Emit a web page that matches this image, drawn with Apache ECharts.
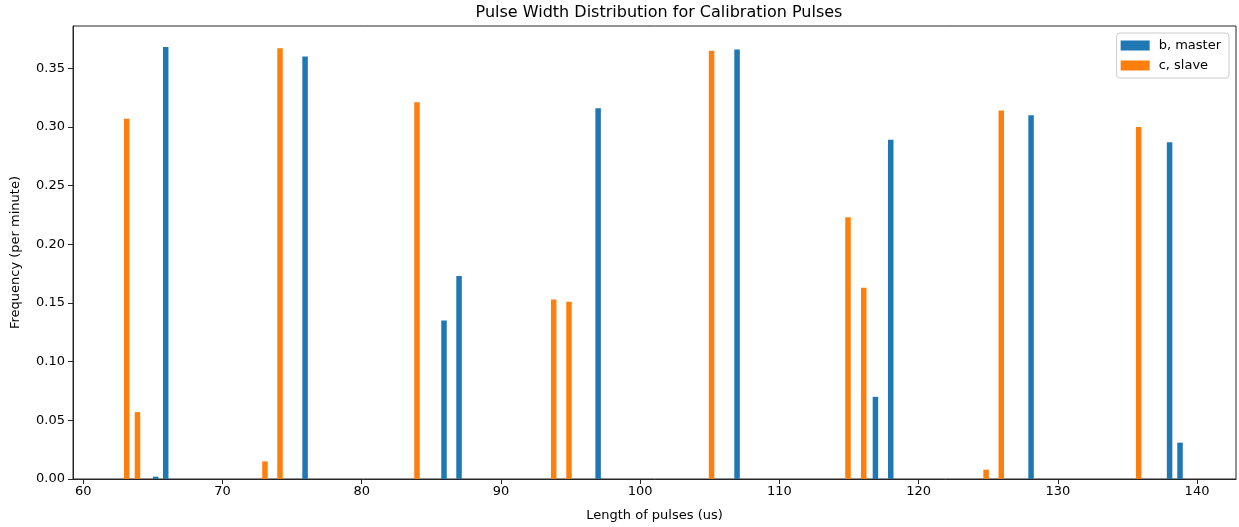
<!DOCTYPE html>
<html>
<head>
<meta charset="utf-8">
<script src="https://cdn.jsdelivr.net/npm/echarts@6/dist/echarts.min.js"></script>
<style>
  html, body { margin: 0; padding: 0; background: #fff; }
  #chart { width: 1239px; height: 527px; }
</style>
</head>
<body>
<div id="chart"></div>
<script>
// Pulse lengths (us) and per-minute frequencies for each channel
const masterLengths = [65.20, 65.92, 75.93, 85.91, 86.99, 96.98, 106.96, 116.90, 118.00, 128.08, 138.03, 138.78];
const masterFreq    = [0.002, 0.368, 0.360, 0.135, 0.173, 0.316, 0.366, 0.070, 0.289, 0.310, 0.287, 0.031];
const slaveLengths  = [63.12, 63.89, 73.05, 74.13, 83.97, 93.79, 94.89, 105.13, 114.93, 116.06, 124.85, 125.94, 135.81];
const slaveFreq     = [0.307, 0.057, 0.015, 0.367, 0.321, 0.153, 0.151, 0.365, 0.223, 0.163, 0.008, 0.314, 0.300];

const xTicks = [60, 70, 80, 90, 100, 110, 120, 130, 140];
const yTicks = [0, 0.05, 0.10, 0.15, 0.20, 0.25, 0.30, 0.35];

const seriesNames = ['b, master', 'c, slave'];
const colors = ['#1f77b4', '#ff7f0e'];

const pairs = (xs, ys) => xs.map((x, i) => [x, ys[i]]);

const font = 'DejaVu Sans';
const axisColor = '#262626';

const chart = echarts.init(document.getElementById('chart'), null, { renderer: 'canvas' });

chart.setOption({
  animation: false,
  color: colors,
  textStyle: { fontFamily: font },
  title: {
    text: 'Pulse Width Distribution for Calibration Pulses',
    left: 654, top: 0, textAlign: 'center',
    textStyle: { fontFamily: font, fontSize: 16, fontWeight: 'normal', color: '#000' }
  },
  legend: {
    orient: 'vertical',
    right: 10, top: 33,
    data: seriesNames,
    icon: 'rect',
    itemWidth: 29, itemHeight: 10, itemGap: 7,
    padding: [6, 8, 6, 4],
    borderColor: '#cccccc', borderWidth: 1, borderRadius: 3,
    backgroundColor: 'rgba(255,255,255,0.8)',
    textStyle: { fontFamily: font, fontSize: 13, color: '#000', padding: [0, 0, 0, 4] }
  },
  grid: {
    left: 73, right: 3, top: 26, bottom: 48,
    outerBoundsMode: 'none',
    containLabel: false,
    show: true, borderColor: axisColor, borderWidth: 1, backgroundColor: 'transparent'
  },
  xAxis: {
    type: 'value',
    min: 59.26, max: 142.8,
    name: 'Length of pulses (us)',
    nameLocation: 'middle', nameGap: 30,
    nameTextStyle: { fontFamily: font, fontSize: 13, color: '#000' },
    axisLine: { show: true, lineStyle: { color: axisColor, width: 1 } },
    axisTick: { show: true, length: 5, lineStyle: { color: axisColor }, customValues: xTicks },
    axisLabel: { fontFamily: font, fontSize: 13, color: '#000', margin: 6, customValues: xTicks },
    splitLine: { show: false }
  },
  yAxis: {
    type: 'value',
    min: 0, max: 0.386,
    name: 'Frequency (per minute)',
    nameLocation: 'middle', nameGap: 51, nameRotate: 90,
    nameTextStyle: { fontFamily: font, fontSize: 13, color: '#000' },
    axisLine: { show: true, lineStyle: { color: axisColor, width: 1 } },
    axisTick: { show: true, length: 5, lineStyle: { color: axisColor }, customValues: yTicks },
    axisLabel: {
      fontFamily: font, fontSize: 13, color: '#000', margin: 8,
      customValues: yTicks,
      formatter: v => v.toFixed(2)
    },
    splitLine: { show: false }
  },
  series: [
    {
      name: seriesNames[0], type: 'bar',
      data: pairs(masterLengths, masterFreq),
      barWidth: 5.5, barGap: '-100%',
      itemStyle: { color: colors[0] }
    },
    {
      name: seriesNames[1], type: 'bar',
      data: pairs(slaveLengths, slaveFreq),
      barWidth: 5.5, barGap: '-100%',
      itemStyle: { color: colors[1] }
    }
  ]
});
</script>
</body>
</html>
